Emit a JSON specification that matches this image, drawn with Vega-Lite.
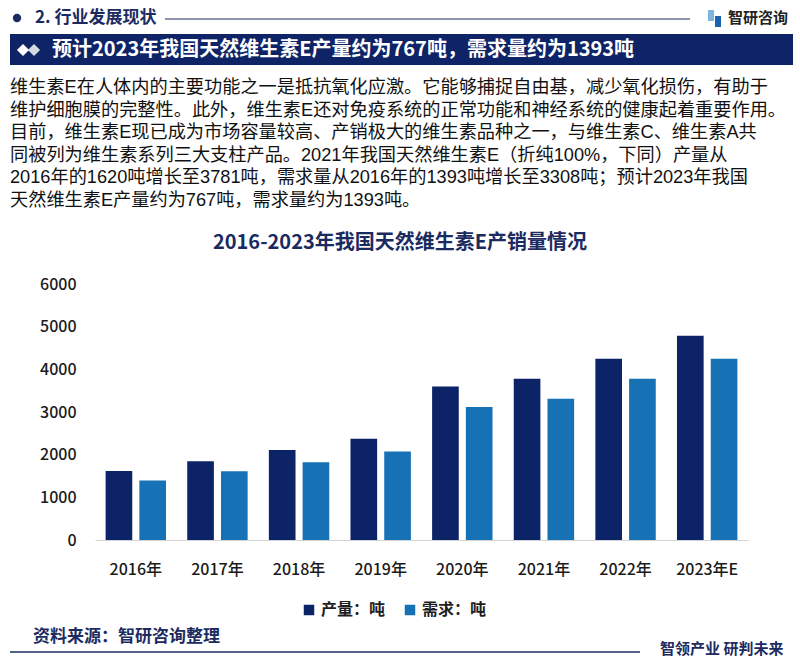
{
  "$schema": "https://vega.github.io/schema/vega-lite/v6.json",
  "width": 653,
  "height": 256,
  "autosize": {"type": "none"},
  "padding": {"left": 95, "top": 284, "right": 52, "bottom": 123},
  "background": "#ffffff",
  "config": {
    "view": {"stroke": null},
    "font": "Noto Sans CJK SC",
    "text": {"font": "Noto Sans CJK SC"}
  },
  "layer": [
    {
      "data": {"values": [
        {"year": "2016年", "series": "产量：吨", "value": 1620},
        {"year": "2016年", "series": "需求：吨", "value": 1393},
        {"year": "2017年", "series": "产量：吨", "value": 1845},
        {"year": "2017年", "series": "需求：吨", "value": 1610},
        {"year": "2018年", "series": "产量：吨", "value": 2110},
        {"year": "2018年", "series": "需求：吨", "value": 1820},
        {"year": "2019年", "series": "产量：吨", "value": 2375},
        {"year": "2019年", "series": "需求：吨", "value": 2075},
        {"year": "2020年", "series": "产量：吨", "value": 3600},
        {"year": "2020年", "series": "需求：吨", "value": 3120},
        {"year": "2021年", "series": "产量：吨", "value": 3781},
        {"year": "2021年", "series": "需求：吨", "value": 3308},
        {"year": "2022年", "series": "产量：吨", "value": 4250},
        {"year": "2022年", "series": "需求：吨", "value": 3781},
        {"year": "2023年E", "series": "产量：吨", "value": 4790},
        {"year": "2023年E", "series": "需求：吨", "value": 4250}
      ]},
      "mark": {"type": "bar"},
      "encoding": {
        "x": {
          "field": "year", "type": "nominal", "sort": null,
          "scale": {"paddingInner": 0.26, "paddingOuter": 0.13},
          "axis": {
            "title": null, "labelAngle": 0, "ticks": false,
            "domainColor": "#d4d4d4", "domainWidth": 1,
            "labelFontSize": 16, "labelFontWeight": 500, "labelColor": "#1a1a1a", "labelPadding": 21,
            "labelFont": "Noto Sans CJK SC"
          }
        },
        "xOffset": {
          "field": "series", "type": "nominal",
          "scale": {"paddingInner": 0.21, "paddingOuter": 0}
        },
        "y": {
          "field": "value", "type": "quantitative",
          "scale": {"domain": [0, 6000], "nice": false},
          "axis": {
            "title": null, "values": [0, 1000, 2000, 3000, 4000, 5000, 6000], "format": "d",
            "grid": false, "ticks": false, "domain": false,
            "labelFontSize": 16, "labelFontWeight": 500, "labelColor": "#1a1a1a", "labelPadding": 19,
            "labelFont": "Noto Sans CJK SC"
          }
        },
        "color": {
          "field": "series", "type": "nominal",
          "scale": {"domain": ["产量：吨", "需求：吨"], "range": ["#0c2467", "#1672b5"]},
          "legend": {
            "title": null, "orient": "none", "direction": "horizontal",
            "legendX": 206, "legendY": 318,
            "symbolType": "square", "symbolSize": 110, "symbolStrokeWidth": 0,
            "labelFontSize": 16, "labelFontWeight": "bold", "labelColor": "#1e1e1e",
            "labelFont": "Noto Sans CJK SC", "columnPadding": 16, "labelOffset": 4
          }
        }
      }
    },
    {
      "data": {"values": [{}]},
      "mark": {"type": "rect", "color": "#0e2467"},
      "encoding": {
        "x": {"value": -85}, "x2": {"value": 698},
        "y": {"value": -250}, "y2": {"value": -219}
      }
    },
    {
      "data": {"values": [{}]},
      "mark": {"type": "text", "align": "left", "baseline": "middle", "fontSize": 17, "fontWeight": "bold", "color": "#1b2b5f", "text": "2. 行业发展现状"},
      "encoding": {"x": {"value": -60}, "y": {"value": -266}}
    },
    {
      "data": {"values": [{}]},
      "mark": {"type": "point", "shape": "circle", "filled": true, "size": 70, "color": "#1b2b5f", "opacity": 1},
      "encoding": {"x": {"value": -78}, "y": {"value": -266}}
    },
    {
      "data": {"values": [{}]},
      "mark": {"type": "rule", "color": "#1b2b5f", "strokeWidth": 1},
      "encoding": {"x": {"value": 70}, "x2": {"value": 595}, "y": {"value": -265}}
    },
    {
      "data": {"values": [{}]},
      "mark": {"type": "rect", "color": "#7fb3e0"},
      "encoding": {"x": {"value": 613}, "x2": {"value": 619}, "y": {"value": -274}, "y2": {"value": -263}}
    },
    {
      "data": {"values": [{}]},
      "mark": {"type": "rect", "color": "#1a63b0"},
      "encoding": {"x": {"value": 620}, "x2": {"value": 626}, "y": {"value": -268}, "y2": {"value": -257}}
    },
    {
      "data": {"values": [{}]},
      "mark": {"type": "text", "align": "left", "baseline": "middle", "fontSize": 15, "fontWeight": "bold", "color": "#222222", "text": "智研咨询"},
      "encoding": {"x": {"value": 633}, "y": {"value": -266}}
    },
    {
      "data": {"values": [{}]},
      "mark": {"type": "point", "shape": "diamond", "filled": true, "size": 150, "opacity": 1, "color": "#d5d9e4"},
      "encoding": {"x": {"value": -61}, "y": {"value": -234}}
    },
    {
      "data": {"values": [{}]},
      "mark": {"type": "point", "shape": "diamond", "filled": true, "size": 150, "opacity": 1, "color": "#ffffff"},
      "encoding": {"x": {"value": -72}, "y": {"value": -234}}
    },
    {
      "data": {"values": [{}]},
      "mark": {"type": "text", "align": "left", "baseline": "middle", "fontSize": 20, "fontWeight": "bold", "color": "#ffffff", "text": "预计2023年我国天然维生素E产量约为767吨，需求量约为1393吨"},
      "encoding": {"x": {"value": -43}, "y": {"value": -234}}
    },
    {
      "data": {"values": [{}]},
      "mark": {
        "type": "text", "align": "left", "baseline": "top", "fontSize": 18.2, "lineHeight": 22.6, "color": "#111111",
        "font": "Liberation Sans, Noto Sans CJK SC",
        "text": [
          "维生素E在人体内的主要功能之一是抵抗氧化应激。它能够捕捉自由基，减少氧化损伤，有助于",
          "维护细胞膜的完整性。此外，维生素E还对免疫系统的正常功能和神经系统的健康起着重要作用。",
          "目前，维生素E现已成为市场容量较高、产销极大的维生素品种之一，与维生素C、维生素A共",
          "同被列为维生素系列三大支柱产品。2021年我国天然维生素E（折纯100%，下同）产量从",
          "2016年的1620吨增长至3781吨，需求量从2016年的1393吨增长至3308吨；预计2023年我国",
          "天然维生素E产量约为767吨，需求量约为1393吨。"
        ]
      },
      "encoding": {"x": {"value": -85}, "y": {"value": -205}}
    },
    {
      "data": {"values": [{}]},
      "mark": {"type": "text", "align": "center", "baseline": "middle", "fontSize": 20, "fontWeight": "bold", "color": "#1b2b5f", "text": "2016-2023年我国天然维生素E产销量情况"},
      "encoding": {"x": {"value": 305}, "y": {"value": -41}}
    },
    {
      "data": {"values": [{}]},
      "mark": {"type": "text", "align": "left", "baseline": "middle", "fontSize": 17, "fontWeight": "bold", "color": "#1b2b5f", "text": "资料来源：智研咨询整理"},
      "encoding": {"x": {"value": -62}, "y": {"value": 353}}
    },
    {
      "data": {"values": [{}]},
      "mark": {"type": "rule", "color": "#1b2b5f", "strokeWidth": 1.5},
      "encoding": {"x": {"value": -85}, "x2": {"value": 545}, "y": {"value": 368}}
    },
    {
      "data": {"values": [{}]},
      "mark": {"type": "text", "align": "left", "baseline": "middle", "fontSize": 15, "fontWeight": "bold", "color": "#1b2b5f", "text": "智领产业 研判未来"},
      "encoding": {"x": {"value": 565}, "y": {"value": 365}}
    }
  ]
}
